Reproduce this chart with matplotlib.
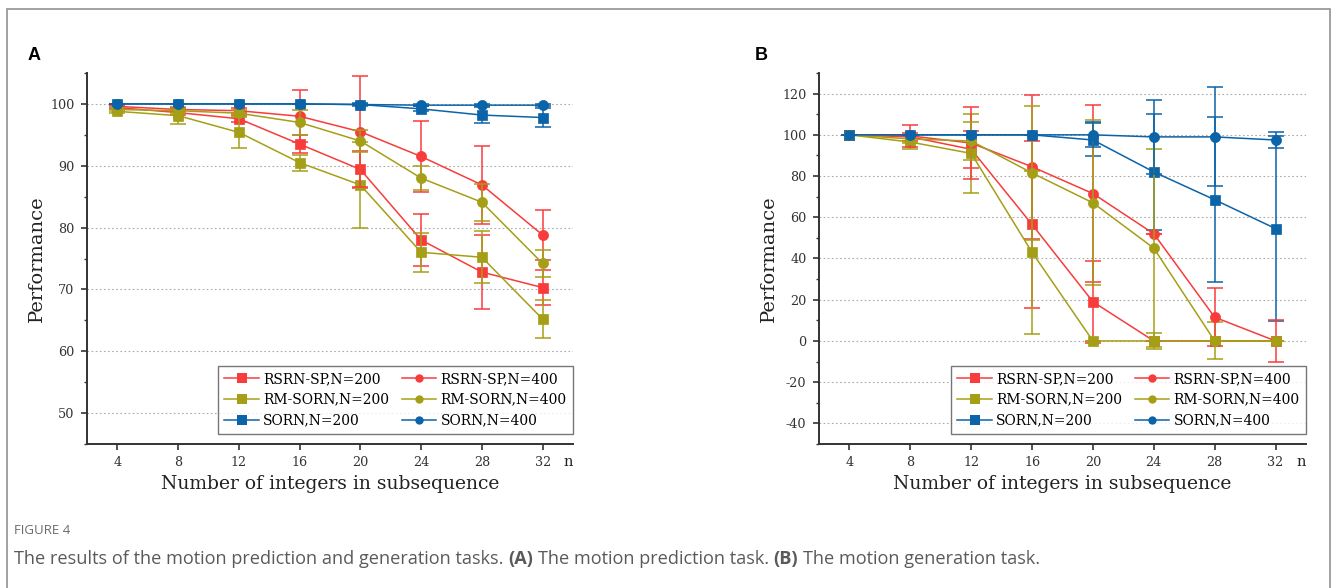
import matplotlib
matplotlib.use("Agg")
import matplotlib.pyplot as plt
from matplotlib.patches import Rectangle
from matplotlib.lines import Line2D
from matplotlib.ticker import MultipleLocator

plt.rcParams['axes.unicode_minus'] = False

# ---------------- data ----------------
n_vals = [4, 8, 12, 16, 20, 24, 28, 32]
series_labels = ["RSRN-SP,N=200", "RM-SORN,N=200", "SORN,N=200",
                 "RSRN-SP,N=400", "RM-SORN,N=400", "SORN,N=400"]

# Panel A: motion prediction
A_rsrn200 = [99.4, 98.6, 97.6, 93.5, 89.4, 78.0, 72.8, 70.3]
A_rsrn200_err = [0.3, 0.4, 0.6, 1.5, 3.0, 4.2, 6.0, 2.8]
A_rsrn400 = [99.6, 99.1, 98.9, 98.0, 95.5, 91.5, 86.9, 78.8]
A_rsrn400_err = [0.2, 0.3, 0.4, 4.2, 9.0, 5.7, 6.3, 4.0]
A_rm200 = [98.8, 98.1, 95.4, 90.5, 86.9, 76.0, 75.2, 65.2]
A_rm200_err = [0.3, 1.4, 2.5, 1.3, 7.0, 3.2, 4.2, 3.1]
A_rm400 = [99.1, 98.9, 98.5, 97.0, 94.0, 88.0, 84.1, 74.2]
A_rm400_err = [0.2, 0.3, 0.5, 2.0, 1.8, 2.0, 3.0, 2.2]
A_sorn200 = [100.0, 100.0, 100.0, 100.0, 99.9, 99.2, 98.2, 97.8]
A_sorn200_err = [0.0, 0.0, 0.0, 0.0, 0.2, 0.4, 1.3, 1.6]
A_sorn400 = [100.0, 100.0, 100.0, 100.0, 99.9, 99.8, 99.8, 99.8]
A_sorn400_err = [0.0, 0.0, 0.0, 0.0, 0.1, 0.2, 0.2, 0.2]

# Panel B: motion generation
B_rsrn200 = [100.0, 99.0, 93.0, 56.5, 19.0, 0.0, 0.0, 0.0]
B_rsrn200_err = [0.0, 2.0, 9.0, 40.5, 20.0, 0.0, 0.0, 0.0]
B_rsrn400 = [100.0, 99.5, 96.0, 84.5, 71.5, 52.0, 11.5, 0.0]
B_rsrn400_err = [0.0, 5.5, 17.5, 35.0, 43.0, 0.0, 14.0, 10.0]
B_rm200 = [100.0, 96.5, 91.0, 43.0, 0.0, 0.0, 0.0, 0.0]
B_rm200_err = [0.0, 3.5, 19.0, 39.5, 0.0, 4.0, 9.0, 0.0]
B_rm400 = [100.0, 98.0, 97.0, 81.5, 67.0, 45.0, 0.0, 0.0]
B_rm400_err = [0.0, 2.0, 9.0, 32.5, 40.0, 48.0, 0.0, 0.0]
B_sorn200 = [100.0, 100.0, 100.0, 100.0, 97.5, 82.0, 68.5, 54.5]
B_sorn200_err = [0.0, 0.0, 0.0, 0.0, 8.0, 28.0, 40.0, 44.8]
B_sorn400 = [100.0, 100.0, 100.0, 100.0, 100.0, 99.0, 99.0, 97.5]
B_sorn400_err = [0.0, 0.0, 0.0, 0.0, 6.0, 18.0, 24.0, 4.0]

RED = "#F83C3C"
OLIVE = "#A59F17"
BLUE = "#0B63A8"

SERIF = "DejaVu Serif"

W, H = 1331, 588
fig = plt.figure(figsize=(W / 100, H / 100), dpi=100)

# light frame around the figure
fig.patches.append(Rectangle((7 / W, -0.05), (1329.5 - 7) / W, 1.05 - 9 / H,
                             transform=fig.transFigure, fill=False,
                             edgecolor="#9a9a9a", linewidth=1.3))


def draw_panel(ax, data, ylim, yticks, minor):
    order = [3, 0, 4, 1, 5, 2]  # circles under squares within a colour
    for idx in order:
        vals, errs, color, marker = data[idx]
        ms = 7.8 if marker == "s" else 7.3
        line, caps, bars = ax.errorbar(n_vals, vals, yerr=errs, color=color,
                                       marker=marker, markersize=ms,
                                       markeredgecolor=color, linewidth=1.1,
                                       elinewidth=1.1, capsize=5.5,
                                       zorder=3 + idx, clip_on=False)
        line.set_markeredgewidth(0.5)
        for c in caps:
            c.set_markeredgewidth(1.1)
            c.set_clip_on(False)
    ax.set_xlim(2, 34)
    ax.set_ylim(*ylim)
    ax.set_xticks(n_vals)
    ax.set_yticks(yticks)
    ax.yaxis.set_minor_locator(MultipleLocator(minor))
    for s in ["top", "right"]:
        ax.spines[s].set_visible(False)
    for s in ["left", "bottom"]:
        ax.spines[s].set_linewidth(1.4)
        ax.spines[s].set_color("#333333")
    ax.tick_params(axis="both", which="major", direction="out", length=4,
                   width=1.2, colors="#333333", labelsize=9.2, pad=5)
    ax.tick_params(axis="y", which="minor", direction="out", length=2.5,
                   width=1.0, colors="#333333")
    for lab in ax.get_xticklabels() + ax.get_yticklabels():
        lab.set_fontfamily(SERIF)
    ax.yaxis.grid(True, which="major", linestyle=(0, (1.5, 2.2)),
                  color="#aaaaaa", linewidth=0.8)
    ax.set_axisbelow(True)
    ax.set_ylabel("Performance", fontsize=14, family=SERIF, color="#222222", labelpad=3)
    ax.set_xlabel("Number of integers in subsequence", fontsize=13.5,
                  family=SERIF, color="#222222", labelpad=4)
    ax.text(0.99, -0.048, "n", transform=ax.transAxes, ha="center", va="center",
            fontsize=10.5, family=SERIF, color="#222222")
    hs = []
    for idx in range(6):
        vals, errs, color, marker = data[idx]
        hs.append(Line2D([], [], color=color, marker=marker, linewidth=1.1,
                         markersize=7.0 if marker == "s" else 6.0,
                         markeredgewidth=0))
    leg = ax.legend(hs, series_labels, ncol=2, loc="lower right",
                    bbox_to_anchor=(1.0, 0.027), prop={"family": SERIF, "size": 10},
                    frameon=True, fancybox=False, edgecolor="#555555",
                    handlelength=2.5, handletextpad=0.3, columnspacing=0.9,
                    labelspacing=0.5, borderpad=0.45, borderaxespad=0.0)
    leg.get_frame().set_linewidth(1.0)
    leg.set_zorder(20)
    return ax


axA = fig.add_axes([87 / W, 1 - 444 / H, 486 / W, 371 / H])
dataA = [(A_rsrn200, A_rsrn200_err, RED, "s"),
         (A_rm200, A_rm200_err, OLIVE, "s"),
         (A_sorn200, A_sorn200_err, BLUE, "s"),
         (A_rsrn400, A_rsrn400_err, RED, "o"),
         (A_rm400, A_rm400_err, OLIVE, "o"),
         (A_sorn400, A_sorn400_err, BLUE, "o")]
draw_panel(axA, dataA, (45, 105), [50, 60, 70, 80, 90, 100], 5)

axB = fig.add_axes([819 / W, 1 - 444 / H, 487 / W, 371 / H])
dataB = [(B_rsrn200, B_rsrn200_err, RED, "s"),
         (B_rm200, B_rm200_err, OLIVE, "s"),
         (B_sorn200, B_sorn200_err, BLUE, "s"),
         (B_rsrn400, B_rsrn400_err, RED, "o"),
         (B_rm400, B_rm400_err, OLIVE, "o"),
         (B_sorn400, B_sorn400_err, BLUE, "o")]
draw_panel(axB, dataB, (-50, 130), [-40, -20, 0, 20, 40, 60, 80, 100, 120], 10)

# panel letters
fig.text(28 / W, 1 - 55 / H, "A", fontsize=13, fontweight="bold",
         family="Liberation Sans", va="center", ha="left")
fig.text(755 / W, 1 - 55 / H, "B", fontsize=13, fontweight="bold",
         family="Liberation Sans", va="center", ha="left")

# caption
fig.text(14 / W, 1 - 531 / H, "FIGURE 4", fontsize=9.5, color="#6b6b6b",
         family="Open Sans", va="center", ha="left")

renderer = fig.canvas.get_renderer()
cap_size = 13.1
cap_y = 1 - 559 / H
pieces = [("The results of the motion prediction and generation tasks.", "normal"),
          ("(A)", "bold"),
          ("The motion prediction task.", "normal"),
          ("(B)", "bold"),
          ("The motion generation task.", "normal")]
t1 = fig.text(0, 0, "a a", fontsize=cap_size, family="Open Sans")
t2 = fig.text(0, 0, "aa", fontsize=cap_size, family="Open Sans")
space_w = t1.get_window_extent(renderer).width - t2.get_window_extent(renderer).width
t1.remove()
t2.remove()
x = 14.0
for txt, wt in pieces:
    t = fig.text(x / W, cap_y, txt, fontsize=cap_size, color="#5a5a5a",
                 family="Open Sans", fontweight=wt, va="center", ha="left")
    w = t.get_window_extent(renderer).width
    x += w + space_w

fig.savefig("out.png", dpi=100)
